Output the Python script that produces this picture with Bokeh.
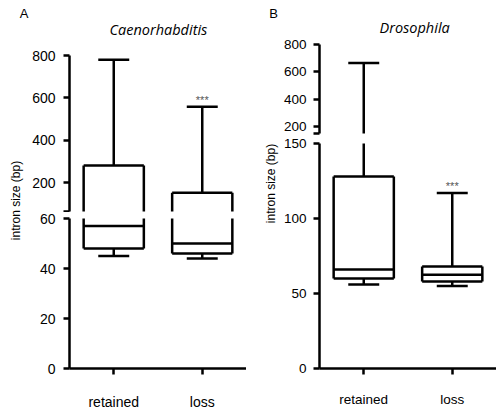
import math
from bokeh.plotting import figure
from bokeh.models import ColumnDataSource, FactorRange, Range1d, FixedTicker, Label, Title
from bokeh.transform import dodge
from bokeh.layouts import row, column
from bokeh.embed import file_html
from bokeh.resources import INLINE
from bokeh.core.properties import value

# ---------------- data ----------------
categories = ["retained", "loss"]

cae_whisker_low = [45, 44]
cae_q1 = [48, 46]
cae_median = [57, 50]
cae_q3 = [282, 153]
cae_whisker_high = [780, 558]

dro_whisker_low = [56, 55]
dro_q1 = [60, 58]
dro_median = [66, 62.5]
dro_q3 = [128, 68]
dro_whisker_high = [665, 117]

significance = ["", "***"]

cae_title = "Caenorhabditis"
dro_title = "Drosophila"
panel_letters = ["A", "B"]
y_label = "intron size (bp)"

# broken y axes: lower segment [0, lower_end], upper segment [upper_start, 800]
cae_lower_end, cae_upper_start = 60, 65
dro_lower_end, dro_upper_start = 150, 150
y_max = 800
cae_ticks_upper = [200, 400, 600, 800]
cae_ticks_lower = [0, 20, 40, 60]
dro_ticks_upper = [200, 400, 600, 800]
dro_ticks_lower = [0, 50, 100, 150]

# ---------------- style ----------------
LW = 2.5
BOX_W = 0.68
CAP_W = 0.35
FONT = "Liberation Sans"


def style_axis(ax, size, standoff):
    ax.axis_line_width = LW
    ax.axis_line_color = "black"
    ax.major_tick_line_width = LW
    ax.major_tick_line_color = "black"
    ax.major_tick_out = 6
    ax.major_tick_in = 0
    ax.minor_tick_line_color = None
    ax.major_label_text_font = FONT
    ax.major_label_text_font_size = size
    ax.major_label_text_color = "black"
    ax.major_label_standoff = standoff


def draw_boxes(p, src, xr):
    kw = dict(source=src, line_color="black", line_width=LW)
    left = dodge("category", -BOX_W / 2, range=xr)
    right = dodge("category", BOX_W / 2, range=xr)
    cl = dodge("category", -CAP_W / 2, range=xr)
    cr = dodge("category", CAP_W / 2, range=xr)
    # box outline
    p.segment(x0=left, x1=left, y0="q1", y1="q3", **kw)
    p.segment(x0=right, x1=right, y0="q1", y1="q3", **kw)
    p.segment(x0=left, x1=right, y0="q3", y1="q3", **kw)
    p.segment(x0=left, x1=right, y0="q1", y1="q1", **kw)
    # median
    p.segment(x0=left, x1=right, y0="median", y1="median", **kw)
    # whiskers and caps
    p.segment(x0="category", x1="category", y0="q3", y1="high", **kw)
    p.segment(x0="category", x1="category", y0="low", y1="q1", **kw)
    p.segment(x0=cl, x1=cr, y0="high", y1="high", **kw)
    p.segment(x0=cl, x1=cr, y0="low", y1="low", **kw)


def draw_sig(p, src):
    p.text(x="category", y="high", text="sig", source=src, text_align="center",
           text_baseline="bottom", y_offset=-1, text_font=value(FONT),
           text_font_size="11px", text_color="#555555")


def add_label(p, text, x, y, size, font=FONT, style="normal", angle=0.0):
    p.add_layout(Label(x=x, y=y, x_units="screen", y_units="screen", text=text,
                       text_font=font, text_font_size=size, text_font_style=style,
                       text_align="center", text_baseline="middle", angle=angle,
                       text_color="black"))


def base_fig(xr, yr, w, h, bl, bt, bb, xaxis):
    p = figure(x_range=xr, y_range=yr, width=w, height=h, output_backend="svg",
               toolbar_location=None, x_axis_location="below" if xaxis else None,
               min_border_left=bl, min_border_right=0, min_border_top=bt,
               min_border_bottom=bb)
    p.grid.visible = False
    p.outline_line_color = None
    p.background_fill_color = "white"
    p.border_fill_color = "white"
    return p


def panel(lows, q1s, meds, q3s, highs, low_end, up_start, up_ticks, low_ticks, g, title):
    data = dict(category=categories, low=lows, q1=q1s, median=meds, q3=q3s, high=highs)
    src = ColumnDataSource(data)
    sig_up = [s if h > up_start else "" for s, h in zip(significance, highs)]
    sig_low = [s if h <= low_end else "" for s, h in zip(significance, highs)]
    src_up = ColumnDataSource(dict(data, sig=sig_up))
    src_low = ColumnDataSource(dict(data, sig=sig_low))
    xr = FactorRange(factors=categories)
    up = base_fig(xr, Range1d(up_start, y_max), g["w"], g["up_frame"] + g["bt"] + g["gap_up"],
                  g["bl"], g["bt"], g["gap_up"], False)
    low = base_fig(xr, Range1d(0, low_end), g["w"], g["low_frame"] + g["gap_low"] + 44,
                   g["bl"], g["gap_low"], 44, True)
    style_axis(up.yaxis[0], g["tick_size"], g["y_stand"])
    style_axis(low.yaxis[0], g["tick_size"], g["y_stand"])
    style_axis(low.xaxis[0], g["tick_size"], g["x_stand"])
    # the end of the upper segment gets a cap tick without a label
    up.yaxis[0].ticker = FixedTicker(ticks=[up_start] + up_ticks)
    up.yaxis[0].major_label_overrides = {up_start: ""}
    low.yaxis[0].ticker = FixedTicker(ticks=low_ticks)
    draw_boxes(up, src, xr)
    draw_boxes(low, src, xr)
    draw_sig(up, src_up)
    draw_sig(low, src_low)
    up.title = Title(text=title, align="left", text_font="Open Sans",
                     text_font_style="italic", text_font_size=g["t_size"],
                     text_color="black", standoff=g["t_stand"], offset=g["t_off"])
    return column(up, low, spacing=0)


def label_fig(w, letter, lx, ly, yl_x, yl_y):
    p = figure(width=w, height=412, x_range=Range1d(0, 1), y_range=Range1d(0, 1),
               output_backend="svg", toolbar_location=None, x_axis_location=None,
               y_axis_location=None, min_border=0)
    p.grid.visible = False
    p.outline_line_color = None
    add_label(p, letter, lx, 412 - ly, "13px")
    add_label(p, y_label, yl_x, 412 - yl_y, "12px", angle=math.pi / 2)
    return p


# panel A: upper frame 54..211, lower frame 218..368 (page pixels)
gA = dict(w=217, bl=39, bt=54, up_frame=157, gap_up=1, gap_low=6, low_frame=150,
          t_stand=34, t_off=40, t_size="14.5px", tick_size="14px", y_stand=8, x_stand=19)
# panel B: upper frame 44..133, lower frame 143..368
gB = dict(w=216, bl=38, bt=44, up_frame=89, gap_up=2, gap_low=8, low_frame=225,
          t_stand=15, t_off=60, t_size="14.5px", tick_size="13.5px", y_stand=7, x_stand=17)

colA = panel(cae_whisker_low, cae_q1, cae_median, cae_q3, cae_whisker_high,
             cae_lower_end, cae_upper_start, cae_ticks_upper, cae_ticks_lower, gA, cae_title)
colB = panel(dro_whisker_low, dro_q1, dro_median, dro_q3, dro_whisker_high,
             dro_lower_end, dro_upper_start, dro_ticks_upper, dro_ticks_lower, gB, dro_title)

labA = label_fig(29, panel_letters[0], 23.5, 12.5, 15, 200)
labB = label_fig(34, panel_letters[1], 27, 12.5, 24, 183)

layout = row(labA, colA, labB, colB, spacing=0)

open("out.html", "w").write(file_html(layout, INLINE))
